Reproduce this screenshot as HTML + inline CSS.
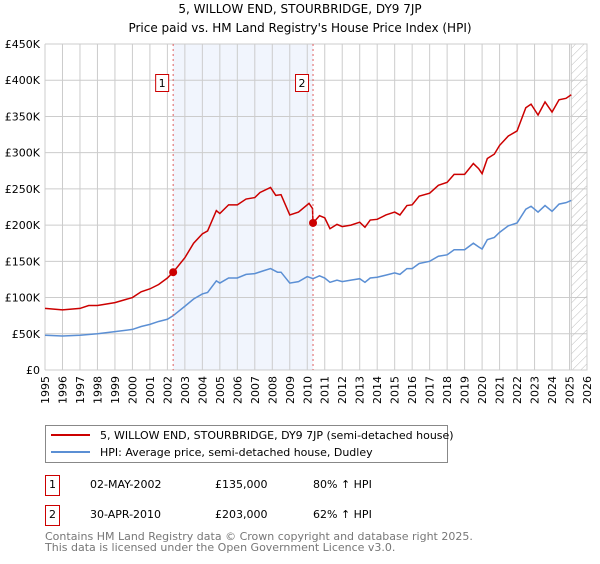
<!DOCTYPE html>
<html><head><meta charset="utf-8"><style>
body{margin:0;background:#fff;font-family:"DejaVu Sans","Liberation Sans",sans-serif;}
svg text{font-family:"DejaVu Sans","Liberation Sans",sans-serif;}
</style></head><body>
<svg id="chart" width="600" height="560" xmlns="http://www.w3.org/2000/svg">
<defs><pattern id="hatch" width="6" height="6" patternUnits="userSpaceOnUse" patternTransform="rotate(45)"><line x1="0" y1="0" x2="0" y2="6" stroke="#bbb" stroke-width="1"/></pattern></defs>
<text x="300" y="13" text-anchor="middle" font-size="12">5, WILLOW END, STOURBRIDGE, DY9 7JP</text>
<text x="300" y="32" text-anchor="middle" font-size="12">Price paid vs. HM Land Registry's House Price Index (HPI)</text>
<g id="plot"></g>
<g>
<rect x="45.5" y="425.5" width="402" height="37" fill="#fff" stroke="#888"/>
<line x1="51" y1="435" x2="90" y2="435" stroke="#cc0000" stroke-width="2"/>
<text x="100" y="439" font-size="11">5, WILLOW END, STOURBRIDGE, DY9 7JP (semi-detached house)</text>
<line x1="51" y1="452" x2="90" y2="452" stroke="#5b8fd4" stroke-width="2"/>
<text x="100" y="456" font-size="11">HPI: Average price, semi-detached house, Dudley</text>
</g>
<g>
<rect x="45.5" y="475.5" width="14" height="20" fill="#fff" stroke="#cc0000"/>
<text x="52.5" y="488" font-size="11" text-anchor="middle">1</text>
<text x="90" y="488" font-size="11">02-MAY-2002</text>
<text x="215" y="488" font-size="11">£135,000</text>
<text x="313" y="488" font-size="11">80% ↑ HPI</text>
</g>
<g>
<rect x="45.5" y="505.5" width="14" height="20" fill="#fff" stroke="#cc0000"/>
<text x="52.5" y="518" font-size="11" text-anchor="middle">2</text>
<text x="90" y="518" font-size="11">30-APR-2010</text>
<text x="215" y="518" font-size="11">£203,000</text>
<text x="313" y="518" font-size="11">62% ↑ HPI</text>
</g>
<text x="45" y="540" font-size="11" fill="#777">Contains HM Land Registry data © Crown copyright and database right 2025.</text>
<text x="45" y="551" font-size="11" fill="#777">This data is licensed under the Open Government Licence v3.0.</text>
</svg>
<script>
const yTicks=[0,50,100,150,200,250,300,350,400,450];
const yTickLabels=["£0","£50K","£100K","£150K","£200K","£250K","£300K","£350K","£400K","£450K"];
const xYears=[1995,1996,1997,1998,1999,2000,2001,2002,2003,2004,2005,2006,2007,2008,2009,2010,2011,2012,2013,2014,2015,2016,2017,2018,2019,2020,2021,2022,2023,2024,2025,2026];
const redT=[1995,1996,1997,1997.5,1998,1999,2000,2000.5,2001,2001.5,2002,2002.33,2003,2003.5,2004,2004.3,2004.8,2005,2005.5,2006,2006.5,2007,2007.3,2007.9,2008.2,2008.5,2009,2009.5,2010.1,2010.3,2010.33,2010.7,2011,2011.3,2011.7,2012,2012.5,2013,2013.3,2013.6,2014,2014.5,2015,2015.3,2015.7,2016,2016.4,2017,2017.5,2018,2018.4,2019,2019.5,2019.8,2020,2020.3,2020.7,2021,2021.5,2022,2022.5,2022.8,2023.2,2023.6,2024,2024.4,2024.8,2025.1];
const redV=[85,83,85,89,89,93,100,108,112,118,127,135,155,175,188,192,220,216,228,228,236,238,245,252,241,242,214,218,230,223,203,213,210,195,201,198,200,204,197,207,208,214,218,214,227,228,240,244,255,259,270,270,285,278,271,292,298,310,323,330,362,367,352,370,356,373,375,380];
const blueT=[1995,1996,1997,1998,1999,2000,2000.5,2001,2001.5,2002,2002.33,2003,2003.5,2004,2004.3,2004.8,2005,2005.5,2006,2006.5,2007,2007.5,2007.9,2008.3,2008.5,2009,2009.5,2010,2010.33,2010.7,2011,2011.3,2011.7,2012,2012.5,2013,2013.3,2013.6,2014,2014.5,2015,2015.3,2015.7,2016,2016.4,2017,2017.5,2018,2018.4,2019,2019.5,2019.8,2020,2020.3,2020.7,2021,2021.5,2022,2022.5,2022.8,2023.2,2023.6,2024,2024.4,2024.8,2025.1];
const blueV=[48,47,48,50,53,56,60,63,67,70,75,88,98,105,107,123,120,127,127,132,133,137,140,135,135,120,122,129,126,130,127,121,124,122,124,126,121,127,128,131,134,132,140,140,147,150,157,159,166,166,175,170,167,180,183,190,199,203,222,226,218,227,219,229,231,234];
const saleT=[2002.33,2010.33];
const saleV=[135,203];
const saleLabels=["1","2"];
const hatchStart=2025.1;

const L=45,R=587,T=44,B=370;
const x=t=>L+(t-1995)*(R-L)/31;
const y=v=>B-v*(B-T)/450;
const NS="http://www.w3.org/2000/svg";
const g=document.getElementById('plot');
function mk(tag,attrs,parent){const e=document.createElementNS(NS,tag);for(const k in attrs)e.setAttribute(k,attrs[k]);(parent||g).appendChild(e);return e;}
let e;
e=mk('rect',{x:x(saleT[0]),y:T,width:x(saleT[1])-x(saleT[0]),height:B-T,fill:'#eef3fd',opacity:0.8});


xYears.forEach(yr=>{e=mk('line',{x1:x(yr),x2:x(yr),y1:T,y2:B,stroke:'#ccc','stroke-width':1});


e=mk('text',{x:0,y:0,'font-size':11,'text-anchor':'end',transform:`translate(${x(yr)+4},${B+6}) rotate(-90)`});e.textContent=yr;

});
yTicks.forEach((v,i)=>{e=mk('line',{x1:L,x2:R,y1:y(v),y2:y(v),stroke:'#ccc','stroke-width':1});


e=mk('text',{x:L-5,y:y(v)+4,'font-size':11,'text-anchor':'end'});e.textContent=yTickLabels[i];

});
e=mk('rect',{x:x(hatchStart),y:T,width:R-x(hatchStart),height:B-T,fill:'url(#hatch)',stroke:'#ccc'});


function line(ts,vs,col,name){e=mk('polyline',{points:ts.map((t,i)=>x(t)+','+y(vs[i])).join(' '),fill:'none',stroke:col,'stroke-width':1.5});

}
line(blueT,blueV,'#5b8fd4','hpi-line');
line(redT,redV,'#cc0000','property-price-line');
saleT.forEach((t,i)=>{
e=mk('line',{x1:x(t),x2:x(t),y1:T,y2:B,stroke:'#e06060','stroke-dasharray':'2,3','stroke-width':1});


e=mk('rect',{x:x(t)-17.5,y:74.5,width:13,height:17,fill:'#fff',stroke:'#cc0000'});


e=mk('text',{x:x(t)-11,y:87,'font-size':11,'text-anchor':'middle'});e.textContent=saleLabels[i];


e=mk('circle',{cx:x(t),cy:y(saleV[i]),r:4,fill:'#cc0000'});


});
</script>
</body></html>
